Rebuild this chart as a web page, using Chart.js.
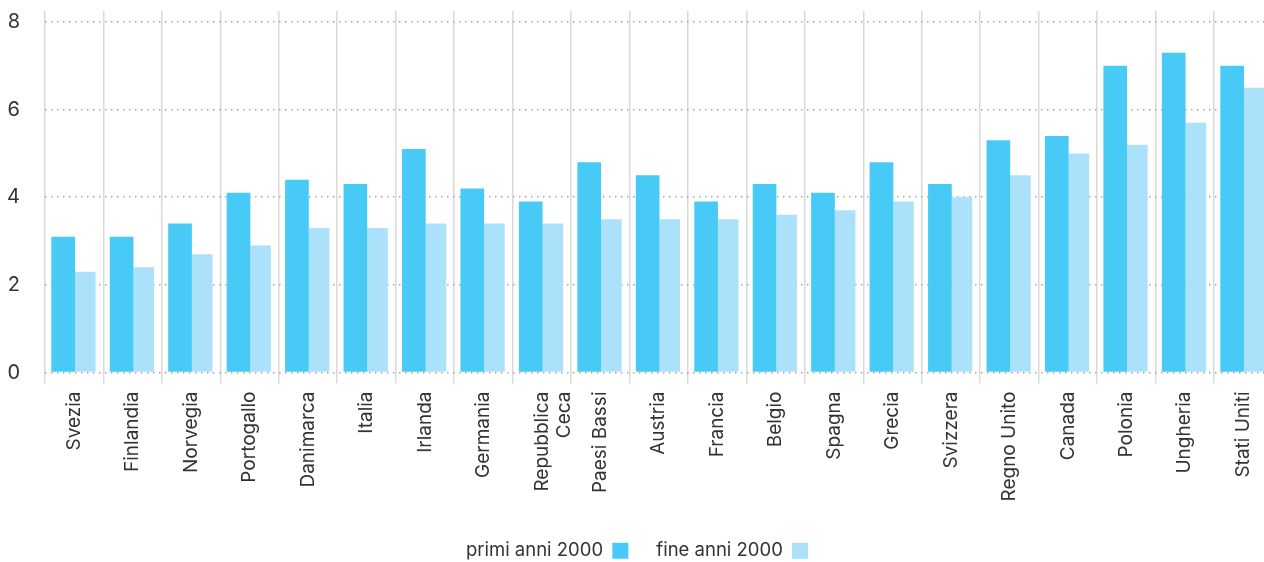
<!DOCTYPE html>
<html>
<head>
<meta charset="utf-8">
<script src="https://cdn.jsdelivr.net/npm/chart.js@4/dist/chart.umd.min.js"></script>
<style>
  html, body { margin: 0; padding: 0; background: #fff; overflow: hidden; }
  #wrap { position: relative; width: 1274px; height: 570px; }
</style>
</head>
<body>
<div id="wrap"><canvas id="c"></canvas></div>
<script>
const categories = ['Svezia','Finlandia','Norvegia','Portogallo','Danimarca','Italia','Irlanda','Germania',['Repubblica','Ceca'],'Paesi Bassi','Austria','Francia','Belgio','Spagna','Grecia','Svizzera','Regno Unito','Canada','Polonia','Ungheria','Stati Uniti'];
const primiAnni2000 = [3.1,3.1,3.4,4.1,4.4,4.3,5.1,4.2,3.9,4.8,4.5,3.9,4.3,4.1,4.8,4.3,5.3,5.4,7.0,7.3,7.0];
const fineAnni2000  = [2.3,2.4,2.7,2.9,3.3,3.3,3.4,3.4,3.4,3.5,3.5,3.5,3.6,3.7,3.9,4.0,4.5,5.0,5.2,5.7,6.5];
const seriesNames = ['primi anni 2000','fine anni 2000'];
const yTickValues = [0,2,4,6,8];

const FONT = 'Inter, "DejaVu Sans", sans-serif';
const TEXT = '#333333';

new Chart(document.getElementById('c'), {
  type: 'bar',
  data: {
    labels: categories,
    datasets: [
      { label: seriesNames[0], data: primiAnni2000, backgroundColor: '#47CAF6', borderWidth: 0, barPercentage: 1.07, categoryPercentage: 0.757 },
      { label: seriesNames[1], data: fineAnni2000, backgroundColor: '#ACE1FB', borderWidth: 0, barPercentage: 0.93, categoryPercentage: 0.757 }
    ]
  },
  options: {
    responsive: true,
    maintainAspectRatio: false,
    animation: false,
    layout: { padding: { top: 0, left: 0, right: 0, bottom: 0 } },
    plugins: {
      tooltip: { enabled: false },
      legend: {
        position: 'bottom',
        rtl: true,
        reverse: true,
        labels: {
          font: { family: FONT, size: 18.5 },
          color: TEXT,
          boxWidth: 16,
          boxHeight: 16,
          padding: 28
        }
      }
    },
    scales: {
      x: {
        grid: { display: true, offset: true, color: '#d9d9d9', lineWidth: 1.5, tickLength: 11, tickColor: '#d9d9d9', drawOnChartArea: true },
        border: { display: false },
        ticks: { color: TEXT, font: { family: FONT, size: 19 }, maxRotation: 90, minRotation: 90, padding: 8, autoSkip: false },
        afterFit: (s) => { s.height = 141; }
      },
      y: {
        min: 0,
        max: 8.25,
        afterBuildTicks: (s) => { s.ticks = yTickValues.map(v => ({ value: v })); },
        grid: { color: '#a8a8a8', lineWidth: 1.5, drawTicks: true, tickLength: 25, tickColor: 'rgba(0,0,0,0)' },
        border: { display: false, dash: [1.5, 4.5] },
        ticks: { color: TEXT, font: { family: FONT, size: 20, lineHeight: 1.1 }, padding: 0 },
        afterFit: (s) => { s.width = 45; }
      }
    }
  }
});
</script>
</body>
</html>
